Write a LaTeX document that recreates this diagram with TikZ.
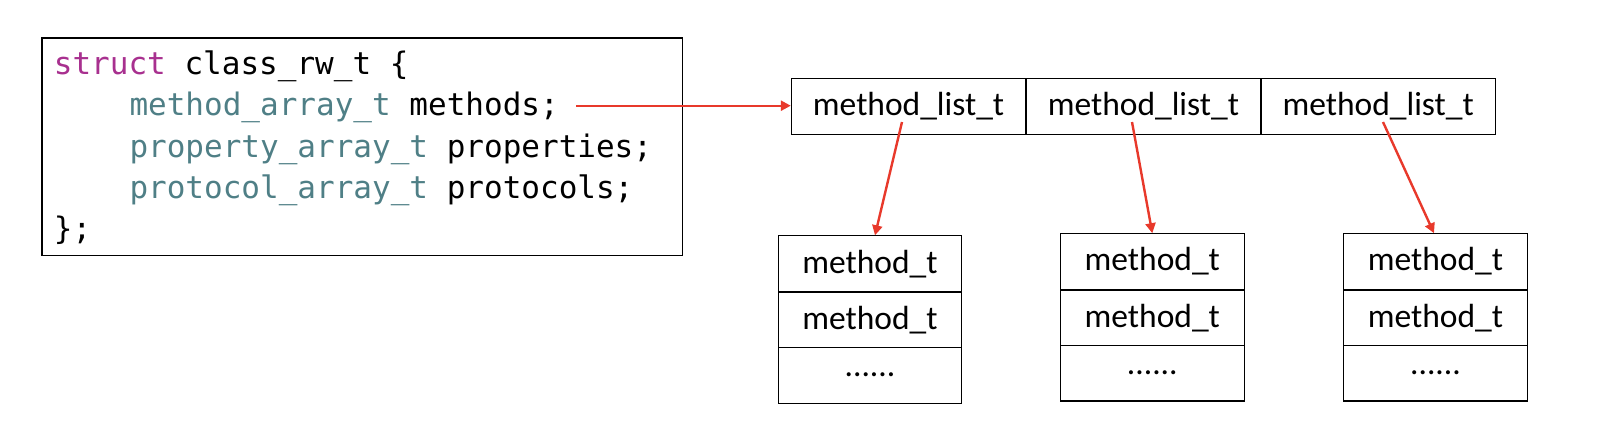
\documentclass[tikz,border=0pt]{standalone}
\usepackage{fontspec}
\setmainfont{Carlito}
\setmonofont{DejaVu Sans Mono}
\usetikzlibrary{arrows.meta}
\definecolor{kwpurple}{HTML}{A8308F}
\definecolor{typeteal}{HTML}{4F7F86}
\definecolor{arrred}{HTML}{E8392B}
\tikzset{
  codeline/.style={anchor=base west, inner sep=0pt, font=\ttfamily\fontsize{31}{31}\selectfont},
  cellbox/.style={draw=black, line width=1.1pt, inner sep=0pt, font=\fontsize{33.5}{33.5}\selectfont},
  topcell/.style={cellbox, minimum width=234.5pt, minimum height=55.8pt},
  botcell/.style={cellbox, minimum width=183.7pt, minimum height=55.7pt},
  redarrow/.style={draw=arrred, line width=2.4pt, -{Triangle[length=10pt,width=10pt]}},
}
\begin{document}
\begin{tikzpicture}[x=1pt,y=-1pt]
\useasboundingbox (0,0) rectangle (1618,424);
% code box
\node[draw=black, line width=1.3pt, minimum width=640.8pt, minimum height=217.7pt, inner sep=0pt, anchor=north west] (code) at (41.3,37.2) {};
\node[codeline] (l1) at (53.7,74.5) {\textcolor{kwpurple}{struct} class\_rw\_t \{};
\node[codeline] (l2) at (129.3,115.8) {\textcolor{typeteal}{method\_array\_t} methods;};
\node[codeline] (l3) at (129.3,157.1) {\textcolor{typeteal}{property\_array\_t} properties;};
\node[codeline] (l4) at (129.3,198.4) {\textcolor{typeteal}{protocol\_array\_t} protocols;};
\node[codeline] (l5) at (53.7,239.7) {\};};
\coordinate (mstart) at (576,105.7);
% top row
\node[topcell] (c1) at (908.6,106.3) {method\_list\_t};
\node[topcell] (c2) at (1143.4,106.3) {method\_list\_t};
\node[topcell] (c3) at (1378.2,106.3) {method\_list\_t};
% bottom boxes
\node[botcell] (a1) at (870,263.7) {method\_t};
\node[botcell] (a2) at (870,319.9) {method\_t};
\node[botcell] (a3) at (870,375.2) {......};
\node[botcell] (b1) at (1152.3,261.6) {method\_t};
\node[botcell] (b2) at (1152.3,317.8) {method\_t};
\node[botcell] (b3) at (1152.3,373.1) {......};
\node[botcell] (d1) at (1435.5,261.6) {method\_t};
\node[botcell] (d2) at (1435.5,317.8) {method\_t};
\node[botcell] (d3) at (1435.5,373.1) {......};
% arrows
\draw[redarrow] (mstart) -- (c1.west |- mstart);
\draw[redarrow] ([shift={(-6.6,15.7)}]c1.center) -- ([xshift=5pt]a1.north);
\draw[redarrow] ([shift={(-11.4,15.7)}]c2.center) -- (b1.north);
\draw[redarrow] ([shift={(4.8,15.7)}]c3.center) -- ([xshift=-1.5pt]d1.north);
\end{tikzpicture}
\end{document}
